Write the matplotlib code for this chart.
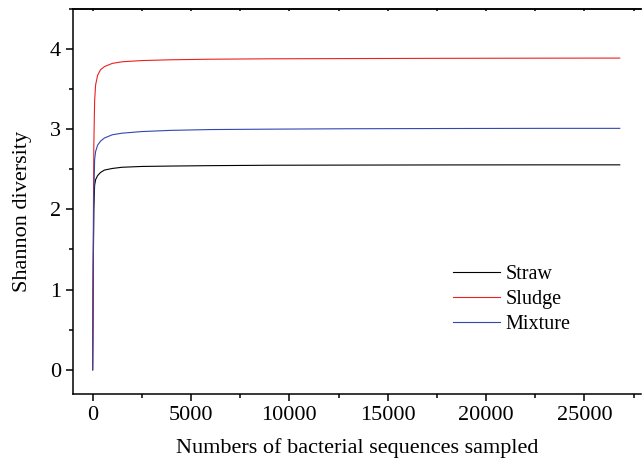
import matplotlib
matplotlib.use("Agg")
import matplotlib.pyplot as plt
from matplotlib.ticker import MultipleLocator

plt.rcParams['font.family'] = ['Liberation Serif', 'DejaVu Serif']

# sequences sampled (shared x for all curves)
seqs = [0, 30, 60, 100, 150, 250, 400, 600, 1000, 1500, 2500, 4000,
        6000, 9000, 13000, 18000, 23000, 26800]

straw = [0, 1.2, 2.0, 2.30, 2.37, 2.42, 2.46, 2.49, 2.51, 2.525, 2.535,
         2.54, 2.545, 2.55, 2.552, 2.554, 2.555, 2.555]
sludge = [0, 1.6, 2.8, 3.35, 3.55, 3.67, 3.74, 3.78, 3.82, 3.84, 3.855,
          3.865, 3.872, 3.877, 3.88, 3.883, 3.885, 3.886]
mixture = [0, 1.3, 2.2, 2.62, 2.72, 2.80, 2.85, 2.89, 2.93, 2.95, 2.97,
           2.985, 2.995, 3.0, 3.005, 3.008, 3.01, 3.01]

fig = plt.figure(figsize=(6.43, 4.65), dpi=100)
ax = fig.add_axes([0.1135, 0.153, 0.884, 0.828])

ax.plot(seqs, straw, color='black', lw=0.8, label='Straw')
ax.plot(seqs, sludge, color='#ee2020', lw=0.8, label='Sludge')
ax.plot(seqs, mixture, color='#3048b0', lw=0.8, label='Mixture')

ax.set_xlim(-1000, 27900)
ax.set_ylim(-0.3, 4.5)
ax.xaxis.set_major_locator(MultipleLocator(5000))
ax.xaxis.set_minor_locator(MultipleLocator(2500))
ax.yaxis.set_major_locator(MultipleLocator(1))
ax.yaxis.set_minor_locator(MultipleLocator(0.5))

for s in ax.spines.values():
    s.set_linewidth(1.1)
ax.spines['right'].set_visible(False)

ax.tick_params(which='both', direction='out', labelsize=16, width=1.1)
ax.tick_params(which='major', length=5)
ax.tick_params(which='minor', length=3)

# small inward ticks on the top spine
top = ax.secondary_xaxis('top')
top.xaxis.set_major_locator(MultipleLocator(2500))
top.tick_params(direction='in', length=1.5, width=1.1, labeltop=False)
top.spines['top'].set_linewidth(1.1)

ax.set_xlabel('Numbers of bacterial sequences sampled', fontsize=16, labelpad=10)
ax.set_ylabel('Shannon diversity', fontsize=16)
ax.yaxis.set_label_coords(-0.072, 0.475)

ax.legend(loc='upper left', bbox_to_anchor=(0.637, 0.382), frameon=False,
          fontsize=14.5, handlelength=2.3, handletextpad=0.3, labelspacing=0.3)

fig.savefig('out.png', dpi=100)
